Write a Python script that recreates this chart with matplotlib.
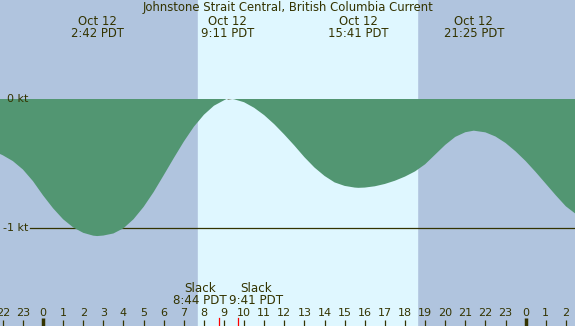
import matplotlib
matplotlib.use("Agg")
from matplotlib import pyplot as plt
from matplotlib import transforms
import numpy as np

# current speed (kt), hours from midnight Oct 12 (PDT)
hours = [-2.14, -2.0, -1.5, -1.0, -0.5, 0.0, 0.5, 1.0, 1.5, 2.0,
         2.5, 2.7, 3.0, 3.5, 4.0, 4.5, 5.0, 5.5, 6.0, 6.5,
         7.0, 7.5, 8.0, 8.5, 9.0, 9.18, 9.5, 10.0, 10.5, 11.0,
         11.5, 12.0, 12.5, 13.0, 13.5, 14.0, 14.5, 15.0, 15.5, 15.68,
         16.0, 16.5, 17.0, 17.5, 18.0, 18.5, 19.0, 19.5, 20.0, 20.5,
         21.0, 21.42, 22.0, 22.5, 23.0, 23.5, 24.0, 24.5, 25.0, 25.5,
         26.0, 26.46]
speed = [-0.425, -0.435, -0.48, -0.545, -0.635, -0.745, -0.845, -0.93, -0.993, -1.035,
         -1.057, -1.06, -1.056, -1.04, -1.0, -0.93, -0.835, -0.72, -0.59, -0.458,
         -0.33, -0.215, -0.122, -0.052, -0.01, 0.004, -0.002, -0.025, -0.068, -0.125,
         -0.195, -0.275, -0.36, -0.45, -0.53, -0.595, -0.645, -0.672, -0.685, -0.687,
         -0.685, -0.675, -0.657, -0.632, -0.60, -0.56, -0.505, -0.43, -0.355, -0.293,
         -0.257, -0.245, -0.258, -0.29, -0.34, -0.405, -0.48, -0.565, -0.655, -0.745,
         -0.83, -0.885]

# max / min current events
event_hours = [2.70, 9.183, 15.683, 21.417]
event_labels = ["2:42 PDT", "9:11 PDT", "15:41 PDT", "21:25 PDT"]
event_date = "Oct 12"

# slack water
slack_hours = [8.733, 9.683]
slack_labels = ["8:44 PDT", "9:41 PDT"]

sunrise = 7.71
sunset = 18.60

title = "Johnstone Strait Central, British Columbia Current"

night = "#B0C4DE"
day = "#DFF7FF"
green = "#529672"
ink = "#333300"

W, H = 575, 326
fig = plt.figure(figsize=(W / 100, H / 100), dpi=100)
ax = fig.add_axes([0, 0, 1, 1])
ax.set_axis_off()

px_per_h = 20.11
x0 = 43.0
ax.set_xlim(-x0 / px_per_h, (W - x0) / px_per_h)
zero_y, kt_px = 99.0, 129.3
ax.set_ylim(-(H - zero_y) / kt_px, zero_y / kt_px)
ax.set_facecolor(night)
fig.patch.set_facecolor(night)

ax.axvspan(sunrise, sunset, color=day, zorder=0)


def px(y):
    # pixel row from top -> axes fraction
    return 1 - y / H


bt = transforms.blended_transform_factory(ax.transData, ax.transAxes)

# -1 kt line (hidden by the fill)
ax.plot([(30 - x0) / px_per_h, 30], [-1, -1], color=ink, lw=0.9, zorder=1)

h = np.array(hours)
v = np.array(speed)
ax.fill_between(h, 0, v, where=v <= 0.001, color=green, lw=0, zorder=2, interpolate=True)
ax.fill_between(h, 0, v, where=v >= 0, color=ink, lw=0, zorder=2, interpolate=True)

ax.text((7 - x0) / px_per_h, 0, "0 kt", color=ink, fontsize=8, va="center", ha="left", zorder=3)
ax.text((3 - x0) / px_per_h, -1, "-1 kt", color=ink, fontsize=8, va="center", ha="left", zorder=3)

ax.text(0.5, px(11), title, transform=ax.transAxes, ha="center", va="baseline",
        color=ink, fontsize=8.4)
for eh, lab in zip(event_hours, event_labels):
    ax.text(eh, px(25), event_date, transform=bt, ha="center", va="baseline", color=ink, fontsize=8.4)
    ax.text(eh, px(36.7), lab, transform=bt, ha="center", va="baseline", color=ink, fontsize=8.4)

offsets = [-18.6, 18.6]
for sh, lab, off in zip(slack_hours, slack_labels, offsets):
    ax.annotate("Slack", xy=(sh, px(291.7)), xycoords=bt, xytext=(off * 0.72, 0),
                textcoords="offset points", ha="center", va="baseline", color=ink, fontsize=8.6)
    ax.annotate(lab, xy=(sh, px(304.3)), xycoords=bt, xytext=(off * 0.72, 0),
                textcoords="offset points", ha="center", va="baseline", color=ink, fontsize=8.6)
    ax.plot([sh, sh], [px(318), 0], transform=bt, color="red", lw=0.9)

for hr in range(-2, 27):
    ax.text(hr, px(316), str(hr % 24), transform=bt, ha="center", va="baseline",
            color=ink, fontsize=8)
    if hr % 24 == 0:
        ax.plot([hr, hr], [px(318), 0], transform=bt, color=ink, lw=2.5, solid_capstyle="butt")
    else:
        ax.plot([hr, hr], [px(320), 0], transform=bt, color=ink, lw=0.9, solid_capstyle="butt")

fig.savefig("out.png", dpi=100, facecolor=night)
